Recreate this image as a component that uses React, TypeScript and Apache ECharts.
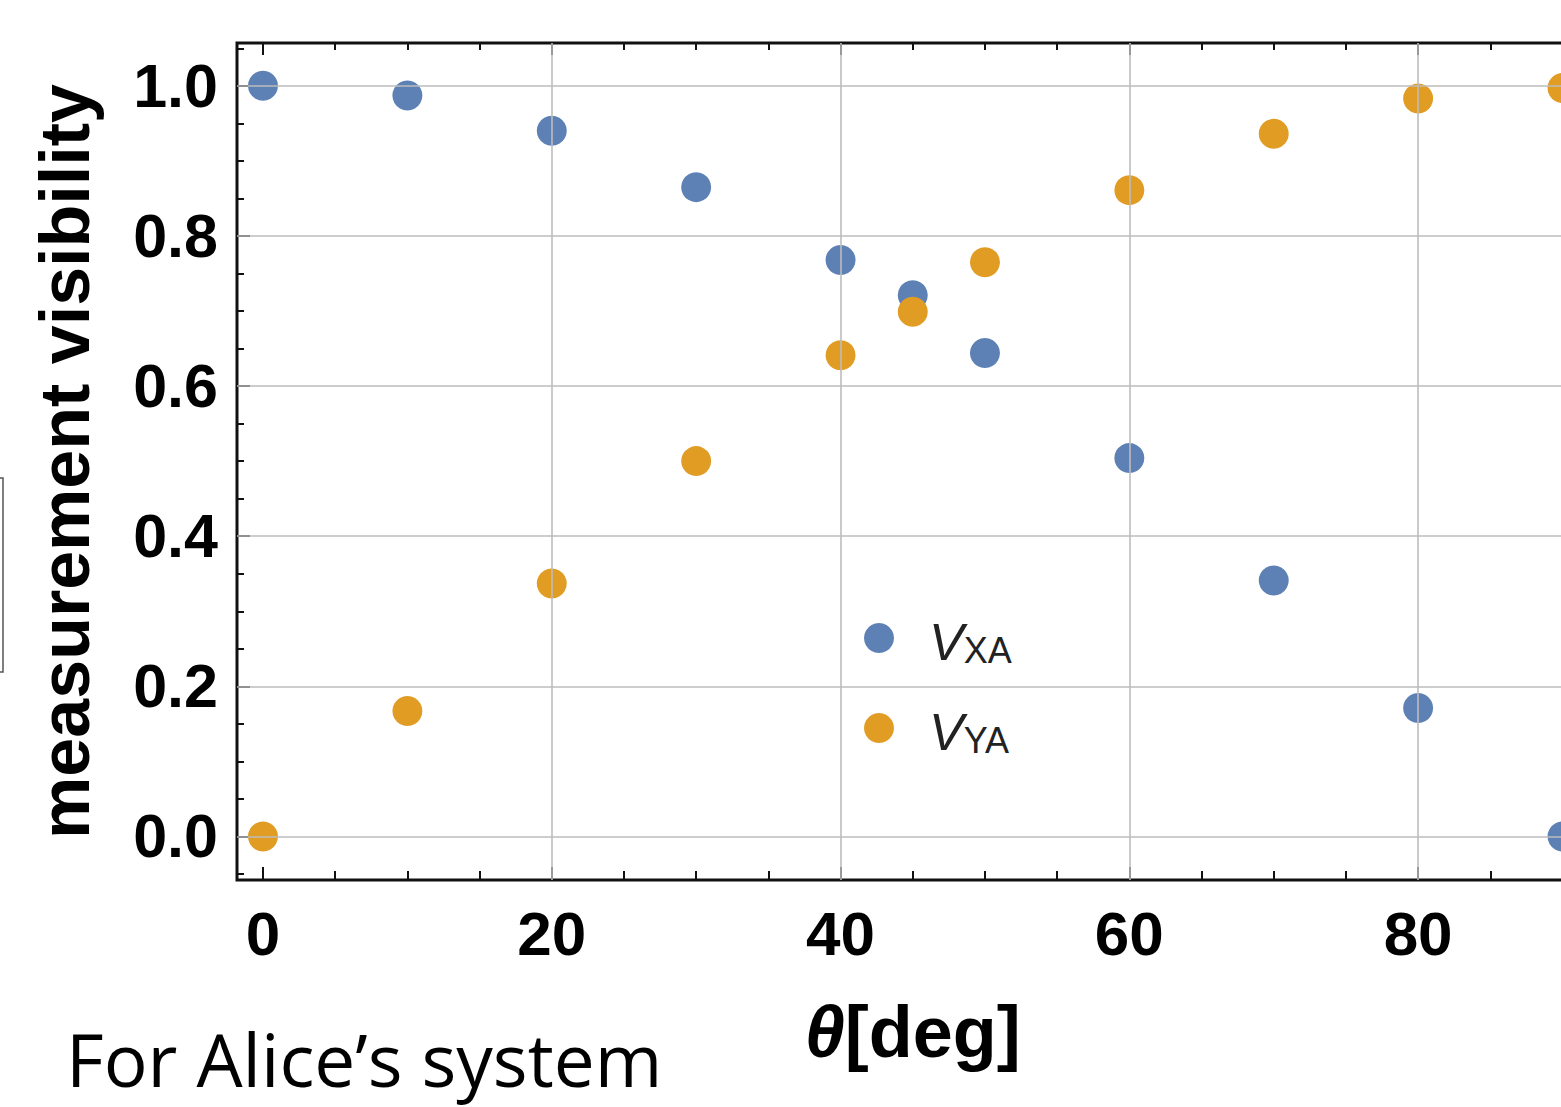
import React, { useEffect, useRef } from "react";
import * as echarts from "echarts";

const thetas = [0, 10, 20, 30, 40, 45, 50, 60, 70, 80, 90];
const vxa = [1.0, 0.987, 0.94, 0.865, 0.768, 0.721, 0.644, 0.504, 0.341, 0.171, 0.0];
const vya = [0.0, 0.167, 0.337, 0.5, 0.641, 0.699, 0.765, 0.861, 0.936, 0.983, 0.997];
const seriesNames = ["XA", "YA"];
const seriesColors = ["#5E81B5", "#E19C24"];

const xMajor = [0, 20, 40, 60, 80];
const xMinor = [5, 10, 15, 25, 30, 35, 45, 50, 55, 65, 70, 75, 85, 90];
const yMajor = [0, 0.2, 0.4, 0.6, 0.8, 1.0];
const yMinor = [-0.05, 0.05, 0.1, 0.15, 0.25, 0.3, 0.35, 0.45, 0.5, 0.55, 0.65, 0.7, 0.75, 0.85, 0.9, 0.95, 1.05];
const xGrid = [20, 40, 60, 80];
const yGrid = [0, 0.2, 0.4, 0.6, 0.8, 1.0];

const X_MIN = -1.8;
const X_MAX = 91.8;
const Y_MIN = -0.058;
const Y_MAX = 1.057;

const FONT = "'Liberation Sans', Arial, sans-serif";

export default function App() {
  const ref = useRef<HTMLDivElement>(null);
  useEffect(() => {
    if (!ref.current) return;
    const chart = echarts.init(ref.current, null, { renderer: "svg" });
    const tickStyle = { color: "#111", width: 2 };
    const xBase = { type: "value", min: X_MIN, max: X_MAX, splitLine: { show: false }, axisLine: { show: false, onZero: false } };
    const yBase = { type: "value", min: Y_MIN, max: Y_MAX, splitLine: { show: false }, axisLine: { show: false, onZero: false } };
    const option: any = {
      animation: false,
      backgroundColor: "#ffffff",
      grid: {
        left: 237,
        top: 43,
        width: 1351.5,
        height: 837,
        show: true,
        borderColor: "#111",
        borderWidth: 3,
        backgroundColor: "transparent",
      },
      xAxis: [
        {
          ...xBase,
          position: "bottom",
          axisTick: { show: true, inside: true, length: 13, lineStyle: tickStyle, customValues: xMajor },
          axisLabel: {
            show: true,
            customValues: xMajor,
            margin: 22,
            fontFamily: FONT,
            fontWeight: "bold",
            fontSize: 62,
            color: "#000",
          },
          name: "{t|θ}[deg]",
          nameLocation: "middle",
          nameGap: 116,
          nameTextStyle: {
            fontFamily: FONT,
            fontWeight: "bold",
            fontSize: 72,
            color: "#000",
            rich: {
              t: { fontFamily: FONT, fontWeight: "bold", fontStyle: "italic", fontSize: 72, color: "#000" },
            },
          },
        },
        {
          ...xBase,
          position: "bottom",
          axisTick: { show: true, inside: true, length: 9, lineStyle: tickStyle, customValues: xMinor },
          axisLabel: { show: false },
        },
        {
          ...xBase,
          position: "top",
          axisTick: { show: true, inside: true, length: 12, lineStyle: tickStyle, customValues: xMajor },
          axisLabel: { show: false },
        },
        {
          ...xBase,
          position: "top",
          axisTick: { show: true, inside: true, length: 7, lineStyle: tickStyle, customValues: xMinor },
          axisLabel: { show: false },
        },
      ],
      yAxis: [
        {
          ...yBase,
          position: "left",
          axisTick: { show: true, inside: true, length: 13, lineStyle: tickStyle, customValues: yMajor },
          axisLabel: {
            show: true,
            customValues: yMajor,
            margin: 19,
            fontFamily: FONT,
            fontWeight: "bold",
            fontSize: 61,
            color: "#000",
            formatter: (v: number) => v.toFixed(1),
          },
          name: "measurement visibility",
          nameLocation: "middle",
          nameGap: 137,
          nameRotate: 90,
          nameTextStyle: { fontFamily: FONT, fontWeight: "bold", fontSize: 70, color: "#000" },
        },
        {
          ...yBase,
          position: "left",
          axisTick: { show: true, inside: true, length: 7, lineStyle: tickStyle, customValues: yMinor },
          axisLabel: { show: false },
        },
      ],
      legend: {
        orient: "vertical",
        left: 859,
        top: 603,
        itemWidth: 30,
        itemHeight: 30,
        itemGap: 30,
        icon: "circle",
        data: seriesNames,
        formatter: (name: string) => `{v|V}{s|${name}}`,
        textStyle: {
          padding: [0, 0, 0, 30],
          lineHeight: 60,
          rich: {
            v: { fontFamily: FONT, fontStyle: "italic", fontSize: 52, color: "#222", lineHeight: 60, verticalAlign: "bottom" },
            s: { fontFamily: FONT, fontSize: 36, color: "#222", lineHeight: 28, verticalAlign: "bottom" },
          },
        },
      },
      series: [
        {
          name: "grid",
          type: "line",
          data: [],
          z: 1,
          silent: true,
          markLine: {
            silent: true,
            symbol: "none",
            label: { show: false },
            lineStyle: { color: "#bdbdbd", width: 1.6, type: "solid" },
            data: [...xGrid.map((x) => ({ xAxis: x })), ...yGrid.map((y) => ({ yAxis: y }))],
          },
        },
        {
          name: seriesNames[0],
          type: "scatter",
          z: 3,
          symbol: "circle",
          symbolSize: 30,
          itemStyle: { color: seriesColors[0], opacity: 1 },
          data: thetas.map((t, i) => [t, vxa[i]]),
        },
        {
          name: seriesNames[1],
          type: "scatter",
          z: 4,
          symbol: "circle",
          symbolSize: 30,
          itemStyle: { color: seriesColors[1], opacity: 1 },
          data: thetas.map((t, i) => [t, vya[i]]),
        },
      ],
      graphic: [
        {
          type: "rect",
          shape: { x: -100, y: 478, width: 103, height: 194 },
          style: { fill: "none", stroke: "#555", lineWidth: 1.5 },
        },
        {
          type: "text",
          left: 66,
          top: 1020,
          style: {
            text: "For Alice’s system",
            fontFamily: "'Open Sans', sans-serif",
            fontSize: 73,
            lineHeight: 76,
            fill: "#000",
          },
        },
      ],
    };
    chart.setOption(option);
    return () => chart.dispose();
  }, []);
  return (
    <div style={{ position: "fixed", left: 0, top: 0, width: 1561, height: 1107, overflow: "hidden", background: "#fff" }}>
      <div ref={ref} style={{ width: 1600, height: 1107 }} />
    </div>
  );
}
